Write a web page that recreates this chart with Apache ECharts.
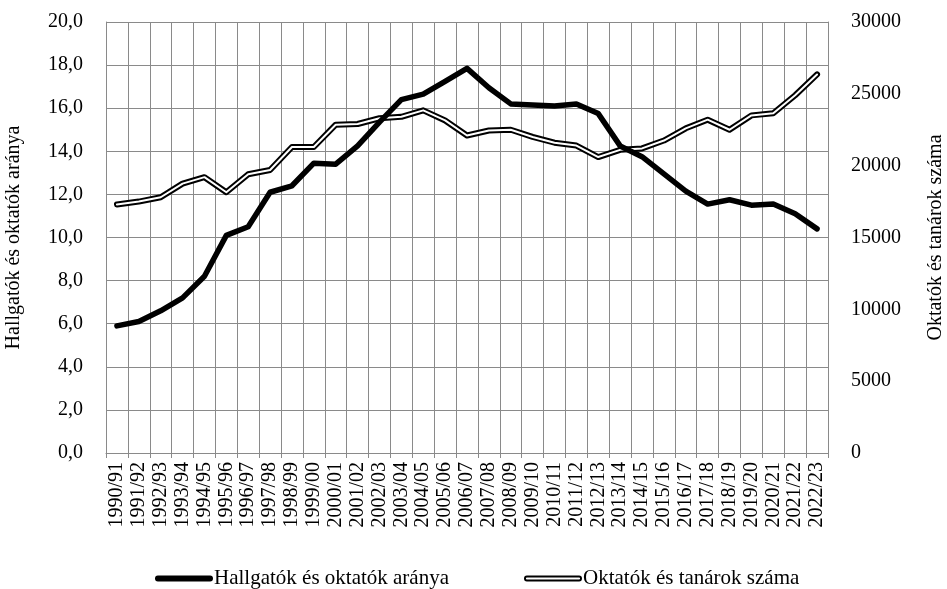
<!DOCTYPE html>
<html>
<head>
<meta charset="utf-8">
<script src="https://cdn.jsdelivr.net/npm/echarts@6/dist/echarts.min.js"></script>
<style>
html,body{margin:0;padding:0;background:#fff;}
#chart{width:947px;height:589px;}
</style>
</head>
<body>
<div id="chart"></div>
<script>
const categories = ["1990/91","1991/92","1992/93","1993/94","1994/95","1995/96","1996/97","1997/98","1998/99","1999/00","2000/01","2001/02","2002/03","2003/04","2004/05","2005/06","2006/07","2007/08","2008/09","2009/10","2010/11","2011/12","2012/13","2013/14","2014/15","2015/16","2016/17","2017/18","2018/19","2019/20","2020/21","2021/22","2022/23"];
const ratio = [5.9, 6.1, 6.6, 7.2, 8.2, 10.1, 10.5, 12.1, 12.4, 13.45, 13.4, 14.25, 15.35, 16.4, 16.65, 17.25, 17.85, 16.95, 16.2, 16.15, 16.1, 16.2, 15.75, 14.25, 13.75, 12.95, 12.15, 11.55, 11.75, 11.5, 11.55, 11.1, 10.4];
const teachers = [17300, 17500, 17800, 18750, 19200, 18150, 19400, 19700, 21300, 21300, 22850, 22900, 23300, 23400, 23850, 23150, 22100, 22450, 22500, 22000, 21600, 21400, 20600, 21100, 21200, 21750, 22600, 23200, 22500, 23500, 23650, 24900, 26350];
const leftTicks = {min: 0, max: 20, interval: 2};
const rightTicks = {min: 0, max: 30000, interval: 5000};
const nameRatio = "Hallgatók és oktatók aránya";
const nameTeachers = "Oktatók és tanárok száma";

const FONT = "'Liberation Serif', 'Times New Roman', serif";
const GRID = '#8a8a8a';
const chart = echarts.init(document.getElementById('chart'));
chart.setOption({
  animation: false,
  backgroundColor: '#fff',
  textStyle: {fontFamily: FONT, color: '#000'},
  grid: {left: 106, right: 119, top: 22, bottom: 136, containLabel: false, outerBoundsMode: 'none'},
  legend: {
    left: 150, top: 563, itemGap: 75, itemWidth: 58, itemHeight: 7,
    textStyle: {fontFamily: FONT, fontSize: 21, color: '#000', padding: [0,0,0,-4]},
    data: [
      {name: nameRatio, icon: 'path://M3,0 H57 A3,3 0 0 1 57,6 H3 A3,3 0 0 1 3,0 Z', itemStyle: {color: '#000'}},
      {name: nameTeachers, icon: 'path://M3,0 H57 A3,3 0 0 1 57,6 H3 A3,3 0 0 1 3,0 Z M3,2 A1,1 0 0 0 3,4 H57 A1,1 0 0 0 57,2 Z', itemStyle: {color: '#000'}}
    ]
  },
  xAxis: {
    type: 'category', data: categories, boundaryGap: true,
    axisLine: {show: true, lineStyle: {color: GRID, width: 1}},
    axisTick: {show: true, length: 5, lineStyle: {color: GRID}},
    splitLine: {show: true, lineStyle: {color: GRID, width: 1}},
    axisLabel: {rotate: 90, interval: 0, margin: 9, fontFamily: FONT, fontSize: 20, color: '#000'}
  },
  yAxis: [
    {
      type: 'value', min: leftTicks.min, max: leftTicks.max, interval: leftTicks.interval, position: 'left',
      name: nameRatio, nameLocation: 'middle', nameGap: 82, nameRotate: 90,
      nameTextStyle: {fontFamily: FONT, fontSize: 20, color: '#000'},
      axisLine: {show: true, lineStyle: {color: GRID}},
      axisTick: {show: false},
      splitLine: {show: true, lineStyle: {color: GRID, width: 1}},
      axisLabel: {margin: 23, fontFamily: FONT, fontSize: 20, color: '#000', formatter: v => v.toFixed(1).replace('.', ',')}
    },
    {
      type: 'value', min: rightTicks.min, max: rightTicks.max, interval: rightTicks.interval, position: 'right',
      name: nameTeachers, nameLocation: 'middle', nameGap: 98, nameRotate: 90,
      nameTextStyle: {fontFamily: FONT, fontSize: 20, color: '#000'},
      axisLine: {show: true, lineStyle: {color: GRID}},
      axisTick: {show: false},
      splitLine: {show: false},
      axisLabel: {margin: 23, fontFamily: FONT, fontSize: 20, color: '#000', formatter: v => String(v)}
    }
  ],
  series: [
    {
      name: nameTeachers, type: 'line', yAxisIndex: 1, data: teachers, symbol: 'none', z: 2,
      lineStyle: {color: '#000', width: 6, cap: 'round', join: 'round'}
    },
    {
      name: 'teachers-inner', type: 'line', yAxisIndex: 1, data: teachers, symbol: 'none', z: 3,
      lineStyle: {color: '#fff', width: 2, cap: 'round', join: 'round'}, silent: true
    },
    {
      name: nameRatio, type: 'line', yAxisIndex: 0, data: ratio, symbol: 'none', z: 4,
      lineStyle: {color: '#000', width: 5.5, cap: 'round', join: 'round'}
    }
  ]
});
</script>
</body>
</html>
